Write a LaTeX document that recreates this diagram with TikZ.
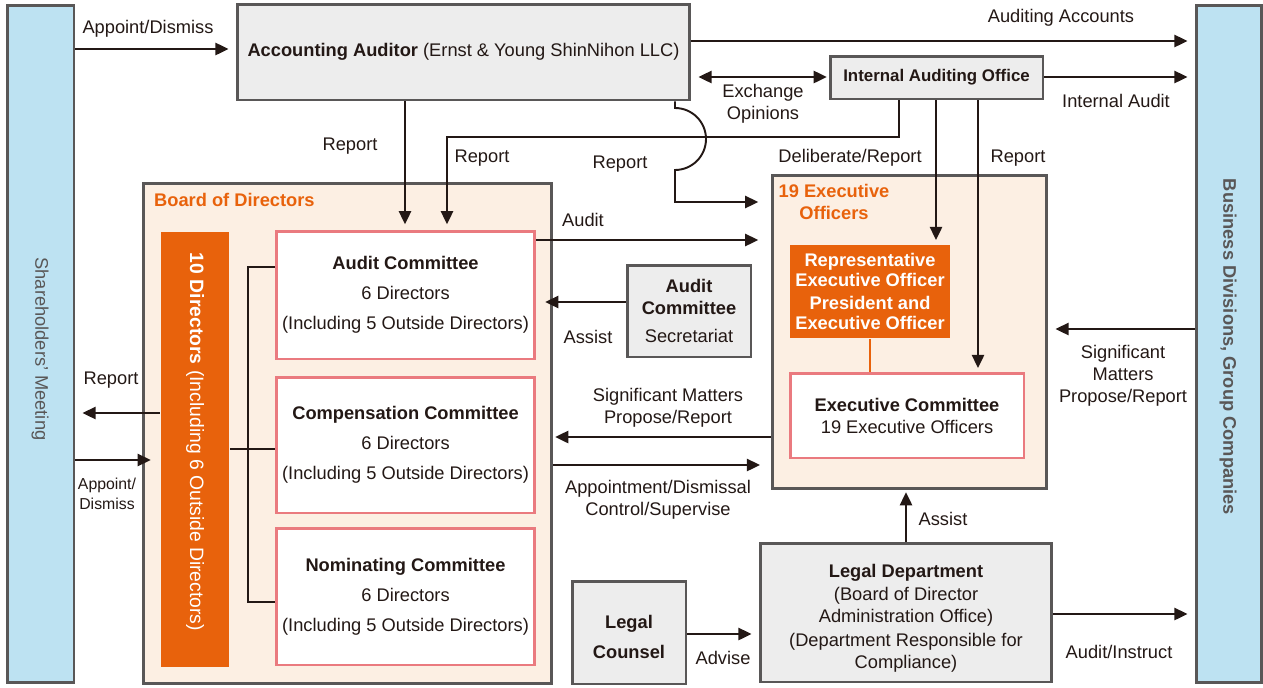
\documentclass[tikz,border=0pt]{standalone}
\usepackage{fontspec}
\setmainfont{Liberation Sans}
\usetikzlibrary{arrows.meta,calc}
\definecolor{ink}{HTML}{231815}
\definecolor{edge}{HTML}{595757}
\definecolor{boxgray}{HTML}{EDEDED}
\definecolor{peach}{HTML}{FCEFE3}
\definecolor{barblue}{HTML}{BDE2F2}
\definecolor{orng}{HTML}{E8620C}
\definecolor{pinkedge}{HTML}{EA7A7F}

\begin{document}
\begin{tikzpicture}[x=0.02cm,y=-0.02cm,
  every node/.style={font=\fontsize{10.4}{12.5}\selectfont,text=ink},
  box/.style={draw=edge,line width=1.7pt,inner sep=0pt,align=center},
  graybox/.style={box,fill=boxgray},
  peachbox/.style={box,fill=peach},
  bluebar/.style={box,fill=barblue},
  pinkbox/.style={box,draw=pinkedge,fill=white},
  orangebox/.style={box,draw=none,fill=orng,text=white,font=\fontsize{10.4}{11}\selectfont\bfseries},
  arr/.style={draw=ink,line width=1.1pt,-{Triangle[length=7.5pt,width=7pt]},shorten >=4pt},
  darr/.style={arr,{Triangle[length=7.5pt,width=7pt]}-{Triangle[length=7.5pt,width=7pt]},shorten <=4pt,shorten >=1pt},
  link/.style={draw=ink,line width=1.1pt},
  lbl/.style={inner sep=1pt,align=center}]

\useasboundingbox (0,0) rectangle (1263,687);

% side bars
\node[bluebar,minimum width=1.34cm,minimum height=13.56cm] (share) at (40.5,344) {};
\node[rotate=-90,text=edge] (shareT) at (40,349) {Shareholders’ Meeting};
\node[bluebar,minimum width=1.30cm,minimum height=13.56cm] (biz) at (1228.5,344) {};
\node[rotate=-90,text=edge,font=\fontsize{10.4}{12.5}\selectfont\bfseries] (bizT) at (1228,347) {Business Divisions, Group Companies};

% top row
\node[graybox,minimum width=9.06cm,minimum height=1.92cm] (aud) at (463.5,52)
  {\textbf{Accounting Auditor} (Ernst \& Young ShinNihon LLC)};
\node[graybox,minimum width=4.26cm,minimum height=0.86cm,font=\fontsize{9.6}{12.5}\selectfont\bfseries] (iao) at (936.5,77.5)
  {Internal Auditing Office};

% board of directors
\node[peachbox,minimum width=8.18cm,minimum height=10.02cm] (bod) at (347.5,433.5) {};
\node[anchor=west,text=orng,font=\fontsize{10.4}{12.5}\selectfont\bfseries] (bodT) at (148,200) {Board of Directors};
\node[orangebox,minimum width=1.36cm,minimum height=8.70cm] (dirs) at (195,449.5) {};
\node[rotate=-90,text=white,font=\fontsize{11}{13}\selectfont] (dirsT) at (195,442) {\textbf{10 Directors} (Including 6 Outside Directors)};
\node[pinkbox,minimum width=5.18cm,minimum height=2.56cm] (acom) at (405.5,295)
  {\textbf{Audit Committee}\\[4.5pt]6 Directors\\[4.5pt](Including 5 Outside Directors)};
\node[pinkbox,minimum width=5.18cm,minimum height=2.72cm] (ccom) at (405.5,445)
  {\textbf{Compensation Committee}\\[4.5pt]6 Directors\\[4.5pt](Including 5 Outside Directors)};
\node[pinkbox,minimum width=5.18cm,minimum height=2.74cm] (ncom) at (405.5,596.5)
  {\textbf{Nominating Committee}\\[4.5pt]6 Directors\\[4.5pt](Including 5 Outside Directors)};
\draw[link] (acom.west |- 0,267) -| (248,602) -- (ncom.west |- 0,602);
\draw[link] (dirs.east |- 0,449) -- (ccom.west |- 0,449);

\node[graybox,minimum width=2.48cm,minimum height=1.84cm] (sec) at (689,311)
  {\textbf{Audit}\\\textbf{Committee}\\[3.5pt]Secretariat};

% executive officers
\node[peachbox,minimum width=5.50cm,minimum height=6.28cm] (exo) at (909.5,332) {};
\node[lbl,text=orng,font=\fontsize{10.4}{12.5}\selectfont\bfseries] (exoT) at (834,202) {19 Executive\\Officers};
\node[orangebox,minimum width=3.20cm,minimum height=1.86cm] (rep) at (870,291.5)
  {Representative\\Executive Officer\\[2.6pt]President and\\Executive Officer};
\node[pinkbox,minimum width=4.68cm,minimum height=1.70cm] (exc) at (907,415.5)
  {\textbf{Executive Committee}\\19 Executive Officers};
\draw[orng,line width=1.6pt] (rep.south) -- (exc.north -| rep.south);

% legal
\node[graybox,minimum width=5.84cm,minimum height=2.78cm] (legal) at (906,612.5) {};
\node[lbl] (legalT) at (906,618)
  {\textbf{Legal Department}\\[1pt](Board of Director\\Administration Office)\\[1pt](Department Responsible for\\Compliance)};
\node[graybox,minimum width=2.28cm,minimum height=2.06cm] (counsel) at (629,632.5) {};
\node[lbl] (counselT) at (629,637) {\textbf{Legal}\\[5pt]\textbf{Counsel}};

% connectors
\draw[arr] (share.east |- 0,49) -- (aud.west |- 0,49);
\node[lbl] (lAppoint) at (148,29) {Appoint/Dismiss};
\draw[arr] (aud.east |- 0,41) -- (biz.west |- 0,41);
\node[lbl] (lAcc) at (1061,18) {Auditing Accounts};
\draw[darr] (aud.east |- 0,77) -- (iao.west |- 0,77);
\node[lbl] (lExch) at (763,104) {Exchange\\Opinions};
\draw[arr] (iao.east |- 0,77) -- (biz.west |- 0,77);
\node[lbl] (lInt) at (1116,101) {Internal Audit};

\draw[arr,shorten >=3pt] (aud.south -| 405,0) -- (acom.north -| 405,0);
\node[lbl] (lRep1) at (350,146) {Report};
\draw[arr,shorten >=3pt] (iao.south -| 899,0) |- (447,137) -- (acom.north -| 447,0);
\node[lbl] (lRep2) at (482,158) {Report};
\draw[arr,shorten >=7pt] (aud.south -| 675,0) -- (675,108) arc[start angle=90,end angle=-90,radius=0.62cm]
  -- (675,202) -- (exo.west |- 0,202);
\node[lbl] (lRep3) at (620,164) {Report};
\draw[arr,shorten >=2pt] (iao.south -| 936,0) -- (rep.north -| 936,0);
\node[lbl] (lDelib) at (850,158) {Deliberate/Report};
\draw[arr,shorten >=2pt] (iao.south -| 978,0) -- (exc.north -| 978,0);
\node[lbl] (lRep4) at (1018,158) {Report};

\draw[arr,shorten >=7pt] (acom.east |- 0,240) -- (exo.west |- 0,240);
\node[lbl] (lAudit) at (583,220) {Audit};
\draw[arr,shorten >=5pt] (sec.west |- 0,302) -- (acom.east |- 0,302);
\node[lbl] (lAssist1) at (588,337) {Assist};
\draw[arr,shorten >=1pt] (exo.west |- 0,437) -- (bod.east |- 0,437);
\node[lbl] (lSig1) at (668,408) {Significant Matters\\Propose/Report};
\draw[arr,shorten >=6pt] (bod.east |- 0,465) -- (exo.west |- 0,465);
\node[lbl] (lAppt) at (658,500) {Appointment/Dismissal\\Control/Supervise};
\draw[arr] (biz.west |- 0,329) -- (exo.east |- 0,329);
\node[lbl] (lSig2) at (1123,376) {Significant\\Matters\\Propose/Report};

\draw[arr] (dirs.west |- 0,413) -- (share.east |- 0,413);
\node[lbl] (lRep5) at (111,380) {Report};
\draw[arr,shorten >=5pt] (share.east |- 0,460) -- (dirs.west |- 0,460);
\node[lbl,font=\fontsize{9}{11.5}\selectfont] (lAppoint2) at (107,494) {Appoint/\\Dismiss};

\draw[arr,shorten >=1pt] (legal.north) -- (exo.south -| legal.north);
\node[lbl] (lAssist2) at (943,519) {Assist};
\draw[arr] (counsel.east |- 0,634) -- (legal.west |- 0,634);
\node[lbl] (lAdvise) at (723,658) {Advise};
\draw[arr] (legal.east |- 0,614) -- (biz.west |- 0,614);
\node[lbl] (lInstr) at (1119,652) {Audit/Instruct};
\end{tikzpicture}
\end{document}
